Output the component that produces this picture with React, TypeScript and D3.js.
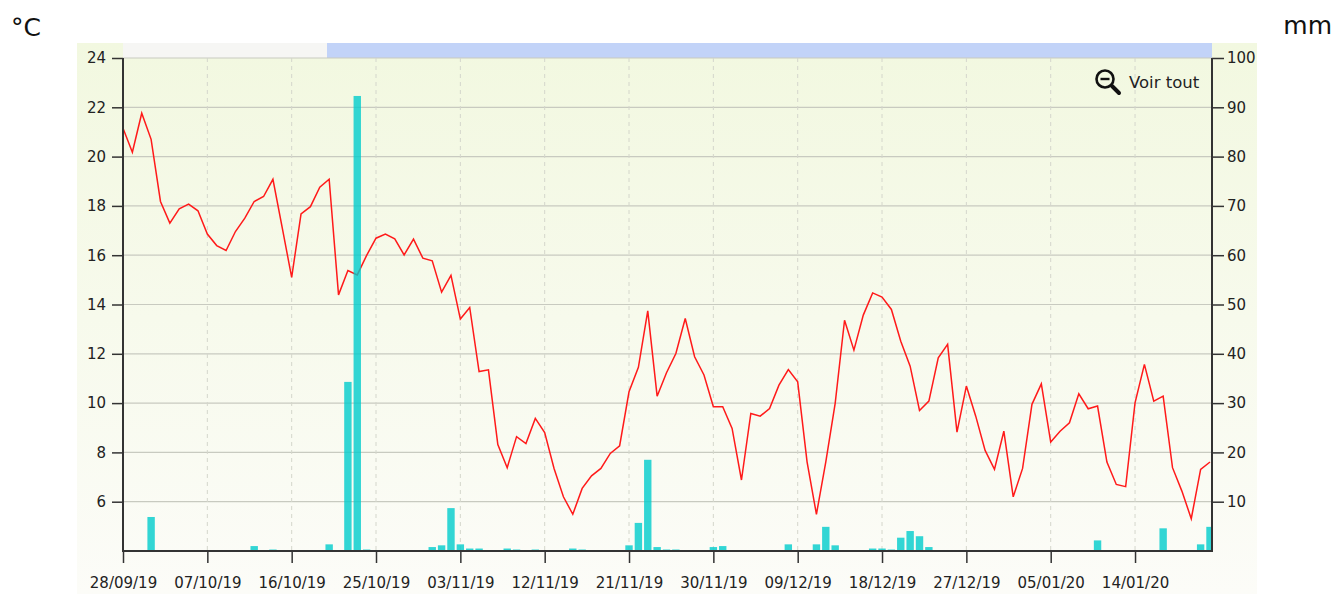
import React from 'react';
import * as d3 from 'd3';

// daily values starting 28/09/19
const startDate = '2019-09-28';
const temperature = [
  21.15, 20.18, 21.76, 20.7, 18.18, 17.3, 17.88, 18.07, 17.8, 16.86,
  16.39, 16.19, 16.96, 17.5, 18.18, 18.38, 19.08, 17.1, 15.1, 17.68,
  17.97, 18.76, 19.08, 14.39, 15.38, 15.2, 15.99, 16.69, 16.86, 16.66,
  16.01, 16.65, 15.88, 15.77, 14.5, 15.18, 13.41, 13.88, 11.28, 11.35,
  8.32, 7.38, 8.64, 8.36, 9.38, 8.8, 7.35, 6.2, 5.49, 6.54,
  7.05, 7.35, 7.96, 8.27, 10.46, 11.45, 13.74, 10.28, 11.23, 12.01,
  13.43, 11.88, 11.14, 9.85, 9.85, 8.97, 6.88, 9.58, 9.47, 9.78,
  10.73, 11.36, 10.86, 7.62, 5.49, 7.62, 9.99, 13.36, 12.15, 13.57,
  14.47, 14.3, 13.8, 12.51, 11.5, 9.7, 10.08, 11.84, 12.38, 8.82,
  10.69, 9.47, 8.08, 7.31, 8.86, 6.2, 7.35, 9.95, 10.78, 8.42,
  8.86, 9.2, 10.38, 9.77, 9.88, 7.61, 6.7, 6.61, 10.01, 11.57,
  10.08, 10.28, 7.38, 6.43, 5.31, 7.31, 7.61,
];
const rainfall = [
  0, 0, 0, 6.9, 0.2, 0, 0, 0, 0, 0,
  0, 0, 0, 0, 1.0, 0, 0.3, 0, 0, 0,
  0, 0, 1.35, 0, 34.3, 92.3, 0.3, 0, 0, 0,
  0, 0, 0, 0.8, 1.15, 8.7, 1.35, 0.5, 0.5, 0.2,
  0.2, 0.5, 0.3, 0, 0.3, 0, 0.2, 0, 0.5, 0.3,
  0, 0, 0, 0, 1.15, 5.7, 18.5, 0.8, 0.3, 0.3,
  0, 0, 0, 0.8, 1.0, 0, 0, 0, 0, 0,
  0, 1.35, 0, 0, 1.35, 4.9, 1.15, 0.2, 0, 0,
  0.5, 0.5, 0.3, 2.7, 4.05, 3.0, 0.8, 0, 0, 0,
  0, 0, 0, 0, 0, 0, 0, 0, 0, 0,
  0, 0, 0, 0, 2.15, 0, 0, 0, 0, 0,
  0, 4.6, 0, 0, 0, 1.35, 4.9,
];
const xTickLabels = [
  '28/09/19', '07/10/19', '16/10/19', '25/10/19', '03/11/19', '12/11/19', '21/11/19',
  '30/11/19', '09/12/19', '18/12/19', '27/12/19', '05/01/20', '14/01/20',
];
const tempTicks = [6, 8, 10, 12, 14, 16, 18, 20, 22, 24];
const rainTicks = [10, 20, 30, 40, 50, 60, 70, 80, 90, 100];

const FONT = "'DejaVu Sans', Verdana, sans-serif";

const App = () => {
  const width = 1333;
  const height = 594;
  const margin = { top: 58, left: 123, right: 1212, bottom: 551 };

  const parseDay = d3.timeParse('%Y-%m-%d');
  const parseLabel = d3.timeParse('%d/%m/%y');
  const start = parseDay(startDate) as Date;
  const dates = temperature.map((_, i) => d3.timeDay.offset(start, i));

  const x = d3.scaleTime().domain([start, dates[dates.length - 1]]).range([margin.left, 1210]);
  const yT = d3.scaleLinear().domain([4, 24]).range([margin.bottom, margin.top]);
  const yR = d3.scaleLinear().domain([0, 100]).range([margin.bottom, margin.top]);

  const tickDates = xTickLabels.map((l) => parseLabel(l) as Date);

  const line = d3
    .line<number>()
    .x((_, i) => x(dates[i]))
    .y((d) => yT(d));

  const barW = 7.4;

  const styleAxis = (node: SVGGElement | null, axis: any) => {
    if (!node) return;
    const g = d3.select(node);
    g.call(axis);
    g.select('.domain').remove();
    g.selectAll('.tick line').attr('stroke', '#333').attr('stroke-width', 1.5);
    g.selectAll('.tick text').attr('fill', '#222').style('font-family', FONT).style('font-size', '15px');
  };

  return (
    <svg width={width} height={height} style={{ position: 'absolute', left: 0, top: 0 }}>
      <defs>
        <linearGradient id="bg" x1="0" y1="0" x2="0" y2="1">
          <stop offset="0%" stopColor="#f2f8e0" />
          <stop offset="100%" stopColor="#fcfcf8" />
        </linearGradient>
        <clipPath id="plot">
          <rect x={margin.left} y={margin.top} width={margin.right - margin.left} height={margin.bottom - margin.top} />
        </clipPath>
      </defs>

      <text x={11} y={36} fontFamily={FONT} fontSize={25} fill="#111">°C</text>
      <text x={1332} y={34} fontFamily={FONT} fontSize={25} fill="#111" textAnchor="end">mm</text>

      <rect x={77} y={43} width={1180} height={551} fill="url(#bg)" />

      {/* navigator band */}
      <rect x={margin.left} y={43} width={327 - margin.left} height={15} fill="#f6f6f4" />
      <rect x={327} y={43} width={margin.right - 327} height={15} fill="#c2d3f8" />

      {/* grid */}
      {tempTicks.map((t) => (
        <line key={`h-${t}`} x1={margin.left} x2={margin.right} y1={yT(t)} y2={yT(t)} stroke="#c8cac0" strokeWidth={1.2} />
      ))}
      {tickDates.slice(1).map((d, i) => (
        <line key={`v-${i}`} x1={x(d)} x2={x(d)} y1={margin.top} y2={margin.bottom} stroke="#d4d6cc" strokeDasharray="4,4" />
      ))}

      {/* temperature line */}
      <path d={line(temperature) as string} fill="none" stroke="#ff1a1a" strokeWidth={1.5} clipPath="url(#plot)" />

      {/* rainfall bars */}
      <g clipPath="url(#plot)">
        {rainfall.map((r, i) =>
          r > 0 ? (
            <rect
              key={`bar-${i}`}
              x={x(dates[i]) - barW / 2}
              y={yR(r)}
              width={barW}
              height={margin.bottom - yR(r)}
              fill="#00cccc"
              fillOpacity={0.8}
            />
          ) : null,
        )}
      </g>

      {/* axes */}
      <g
        transform={`translate(${margin.left},0)`}
        ref={(node) => styleAxis(node, d3.axisLeft(yT).tickValues(tempTicks).tickSize(11).tickPadding(6))}
      />
      <g
        transform={`translate(${margin.right},0)`}
        ref={(node) => styleAxis(node, d3.axisRight(yR).tickValues(rainTicks).tickSize(12).tickPadding(3))}
      />
      <g
        transform={`translate(0,${margin.bottom})`}
        ref={(node) =>
          styleAxis(
            node,
            d3.axisBottom(x).tickValues(tickDates).tickSize(12).tickPadding(14).tickFormat((_, i) => xTickLabels[i]),
          )
        }
      />
      <line x1={margin.left} x2={margin.left} y1={margin.top} y2={margin.bottom + 1} stroke="#333" strokeWidth={2} />
      <line x1={margin.right} x2={margin.right} y1={margin.top} y2={margin.bottom + 1} stroke="#333" strokeWidth={2} />
      <line x1={margin.left} x2={margin.right + 1} y1={margin.bottom} y2={margin.bottom} stroke="#333" strokeWidth={2} />

      {/* reset zoom button */}
      <g>
        <circle cx={1105} cy={79} r={8.5} fill="none" stroke="#111" strokeWidth={2.6} />
        <line x1={1100.5} x2={1109.5} y1={79} y2={79} stroke="#111" strokeWidth={2.4} />
        <line x1={1112} y1={86} x2={1119} y2={93} stroke="#111" strokeWidth={4} strokeLinecap="round" />
        <text x={1129} y={88} fontFamily={FONT} fontSize={16.5} fill="#222">Voir tout</text>
      </g>
    </svg>
  );
};

export default App;
